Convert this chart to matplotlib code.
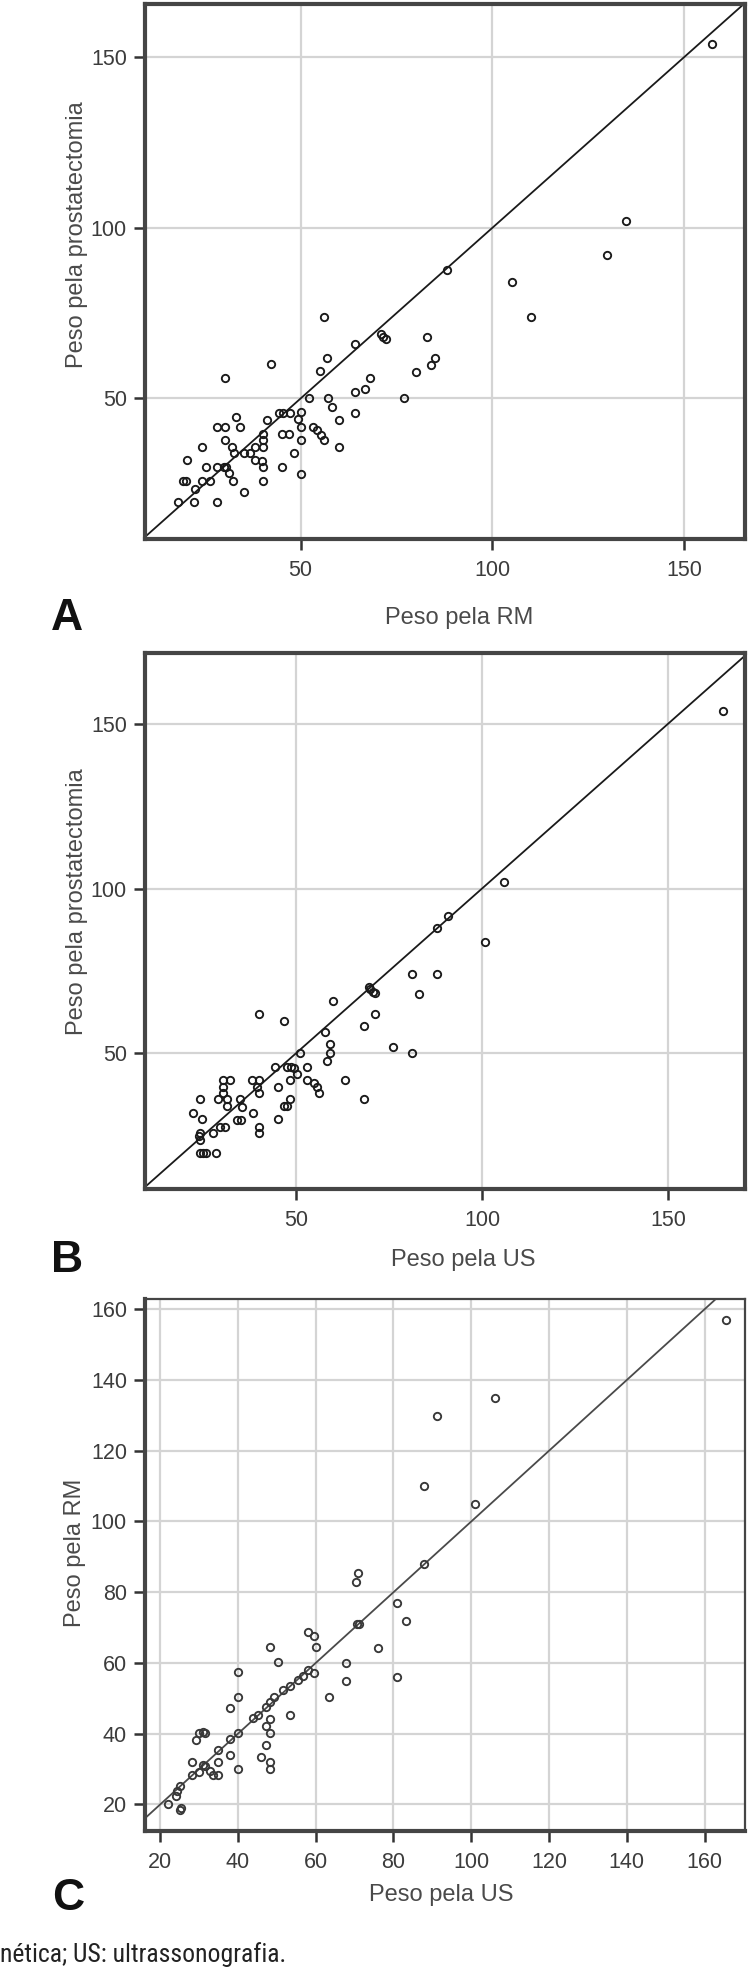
import matplotlib
matplotlib.use("Agg")
import matplotlib.pyplot as plt
from matplotlib import font_manager

# ---------------- data ----------------
# Panel A: weight by MRI (x) vs weight by prostatectomy (y)
a_rm = [157.3, 134.9, 129.9, 105.2, 110.2, 88.1, 56.2,
        30.3, 42.2, 57.0, 55.0, 64.2, 71.5, 72.2, 71.0, 83.0, 85.0,
        83.9, 80.0, 77.0, 68.2, 66.9, 64.2, 64.1, 59.9, 59.9, 57.2,
        58.2, 52.2, 50.0, 50.0, 50.0, 50.0, 48.3, 49.2, 53.1, 54.2,
        55.2, 56.2, 45.1, 47.0, 45.1, 44.4, 45.5, 47.2, 41.1, 40.1,
        40.1, 40.1, 40.1, 40.1, 38.1, 38.1, 36.8, 35.1, 35.2, 34.2,
        33.2, 30.3, 28.1, 30.3, 32.2, 32.5, 29.9, 30.5, 28.1, 25.3,
        31.4, 32.3, 24.2, 20.3, 19.4, 20.0, 24.2, 26.4, 22.5, 18.1,
        22.2, 28.1, 39.8]
a_prost = [154.0, 102.1, 91.9, 84.0, 74.0, 87.7, 74.0,
           55.9, 60.0, 61.9, 57.9, 65.9, 68.1, 67.5, 69.0, 67.9, 61.9,
           59.8, 57.8, 50.0, 56.1, 52.9, 51.9, 45.8, 43.6, 35.8, 50.1,
           47.6, 50.1, 46.1, 41.7, 37.8, 27.8, 33.9, 44.1, 41.7, 40.7,
           39.2, 37.8, 39.7, 39.7, 30.0, 45.8, 45.8, 45.6, 43.8, 39.7,
           37.8, 35.8, 30.0, 25.9, 35.8, 31.9, 33.9, 33.9, 22.6, 41.7,
           44.6, 41.7, 41.7, 37.8, 35.8, 33.9, 30.0, 30.0, 30.0, 30.0,
           28.0, 25.9, 35.8, 31.9, 25.9, 25.9, 25.9, 25.9, 23.6, 19.7,
           19.7, 19.7, 31.7]

# Panel B: weight by US (x) vs weight by prostatectomy (y)
b_us = [164.8, 106.0, 90.8, 87.8, 100.8, 81.1, 88.0, 83.1,
        40.2, 46.9, 60.0, 70.0, 69.6, 70.6, 71.3, 71.3, 68.2, 57.9,
        59.1, 59.2, 58.3, 76.1, 81.2, 51.2, 44.4, 47.6, 48.6, 49.4,
        53.1, 50.3, 48.3, 53.1, 54.8, 55.7, 56.3, 63.1, 68.4, 45.2,
        48.5, 47.6, 46.9, 45.2, 40.2, 40.2, 38.6, 40.2, 38.2, 40.0,
        39.5, 35.0, 35.5, 34.1, 35.4, 30.5, 32.3, 30.5, 30.5, 29.2,
        31.6, 31.6, 31.0, 29.6, 24.4, 22.3, 24.7, 27.7, 24.4, 24.0,
        24.4, 24.4, 25.0, 25.9, 28.6]
b_prost = [153.9, 102.0, 91.8, 88.0, 83.8, 74.0, 74.0, 68.1,
           61.9, 59.9, 66.0, 69.4, 70.2, 68.6, 68.2, 61.9, 58.3, 56.6,
           53.0, 50.0, 47.8, 52.0, 50.0, 50.0, 45.8, 45.8, 45.8, 45.6,
           45.8, 43.9, 41.9, 41.9, 40.9, 39.7, 38.1, 41.9, 36.1, 39.9,
           36.1, 34.0, 34.0, 30.0, 27.8, 25.8, 31.8, 38.1, 41.9, 41.9,
           39.9, 36.1, 33.8, 29.8, 29.8, 41.9, 41.9, 39.9, 37.9, 36.1,
           36.1, 34.0, 27.8, 27.8, 36.1, 31.8, 30.0, 26.0, 25.8, 25.0,
           23.9, 19.9, 19.9, 19.9, 19.9]

# Panel C: weight by US (x) vs weight by MRI (y)
c_us = [165.5, 106.1, 91.2, 87.9, 101.0, 87.9, 70.9, 70.3, 70.5, 71.2,
        80.8, 83.1, 75.9, 67.8, 67.8, 80.8,
        58.0, 59.5, 60.0, 48.2, 50.3, 40.0, 40.0, 38.0, 53.3, 63.5,
        59.5, 58.0, 56.7, 55.4, 53.3, 51.6, 49.4, 48.2, 47.3, 45.2,
        43.9, 40.0, 38.0, 35.0, 48.2, 47.3, 48.2, 47.1, 46.0, 48.2,
        48.2, 40.0, 38.0, 35.0, 35.0, 33.6, 29.3, 30.1, 31.0, 31.5,
        28.1, 28.1, 31.0, 31.5, 30.1, 32.9, 25.2, 24.4, 24.1, 22.1,
        25.1, 25.3]
c_rm = [157.0, 134.9, 129.8, 110.0, 105.0, 88.0, 85.4, 83.0, 71.0, 71.0,
        77.0, 71.9, 64.1, 60.0, 54.9, 56.0,
        68.7, 67.6, 64.4, 64.4, 60.2, 57.4, 50.4, 47.3, 45.2, 50.4,
        57.2, 57.9, 56.4, 55.3, 53.4, 52.4, 50.4, 48.9, 47.6, 45.4,
        44.5, 40.2, 38.6, 35.3, 44.3, 42.1, 40.2, 36.9, 33.5, 32.0,
        30.1, 30.1, 34.1, 32.0, 28.2, 28.2, 38.2, 40.2, 40.4, 40.3,
        32.0, 28.2, 31.3, 30.8, 29.1, 29.4, 25.2, 23.8, 22.4, 20.0,
        18.4, 18.9]

ab_ticks = [50, 100, 150]
c_ticks = [20, 40, 60, 80, 100, 120, 140, 160]
panel_letters = ["A", "B", "C"]
x_labels = ["Peso pela RM", "Peso pela US", "Peso pela US"]
y_labels = ["Peso pela prostatectomia", "Peso pela prostatectomia", "Peso pela RM"]
caption = "nética; US: ultrassonografia."

# ---------------- fonts ----------------
avail = {f.name for f in font_manager.fontManager.ttflist}
base_font = ["Liberation Sans", "DejaVu Sans"]
narrow_font = [f for f in ["Liberation Sans Narrow", "Roboto Condensed", "Open Sans Condensed"] if f in avail]
narrow_font = narrow_font + ["Liberation Sans", "DejaVu Sans"]
plt.rcParams["font.family"] = base_font

W, H = 750, 1978
fig = plt.figure(figsize=(W / 100, H / 100), dpi=100)

def frac_rect(left, top, right, bottom):
    return [left / W, 1 - bottom / H, (right - left) / W, (bottom - top) / H]

panels = [
    dict(rect=frac_rect(145, 4, 745, 539), x=a_rm, y=a_prost,
         xlim=(9.4, 165.9), ylim=(8.8, 165.6), ticks=ab_ticks, ylab_pos=(-0.1125, 0.568),
         xlab=(459, 624), letter=(51, 630), mcol="#1a1a1a", lcol="#1a1a1a", thin_tr=False),
    dict(rect=frac_rect(145, 653, 745, 1189), x=b_us, y=b_prost,
         xlim=(9.5, 170.6), ylim=(8.9, 171.4), ticks=ab_ticks, ylab_pos=(-0.114, 0.537),
         xlab=(463, 1266), letter=(51, 1272), mcol="#1a1a1a", lcol="#1a1a1a", thin_tr=False),
    dict(rect=frac_rect(145, 1299, 745, 1831), x=c_us, y=c_rm,
         xlim=(16.1, 170.4), ylim=(12.5, 162.9), ticks=c_ticks, ylab_pos=(-0.116, 0.523),
         xlab=(441, 1901), letter=(52, 1910), mcol="#383838", lcol="#4a4a4a", thin_tr=True),
]

for i, p in enumerate(panels):
    ax = fig.add_axes(p["rect"])
    ax.set_xlim(*p["xlim"])
    ax.set_ylim(*p["ylim"])
    ax.set_xticks(p["ticks"])
    ax.set_yticks(p["ticks"])
    ax.grid(True, color="#d4d4d4", linewidth=1.6, zorder=0)
    ax.set_axisbelow(True)
    ax.axline((50, 50), (100, 100), color=p["lcol"], linewidth=1.3, zorder=2)
    ax.plot(p["x"], p["y"], linestyle="none", marker="o", markersize=5.3,
            markerfacecolor="none", markeredgecolor=p["mcol"], markeredgewidth=1.35, zorder=3)
    for side, sp in ax.spines.items():
        sp.set_color("#454545")
        if p["thin_tr"] and side in ("top", "right"):
            sp.set_linewidth(1.6)
        else:
            sp.set_linewidth(3.0)
    ax.tick_params(axis="both", direction="out", length=8, width=1.8, color="#333333",
                   labelsize=15.5, labelcolor="#3c3c3c")
    ax.tick_params(axis="x", pad=7)
    ax.tick_params(axis="y", pad=5)
    ax.set_ylabel(y_labels[i], fontsize=17, color="#4a4a4a", va="center")
    ax.yaxis.set_label_coords(*p["ylab_pos"])
    fig.text(p["xlab"][0] / W, 1 - p["xlab"][1] / H, x_labels[i], fontsize=17,
             color="#4a4a4a", ha="center", va="baseline")
    fig.text(p["letter"][0] / W, 1 - p["letter"][1] / H, panel_letters[i], fontsize=32,
             fontweight="bold", family=base_font, color="#111111", ha="left", va="baseline")

fig.text(0.0, 1 - 1962 / H, caption, fontsize=18.5, family=narrow_font, color="#222222",
         ha="left", va="baseline")

fig.savefig("out.png", dpi=100)
